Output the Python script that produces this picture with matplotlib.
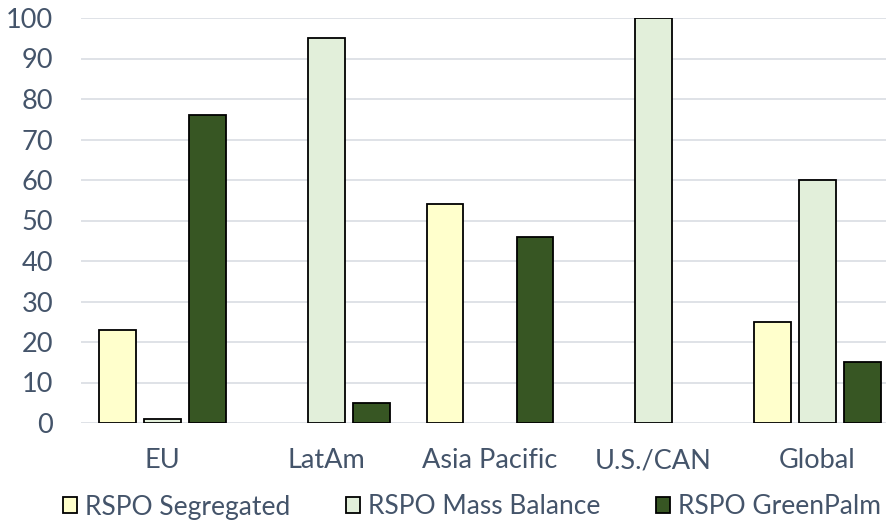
import numpy as np
import matplotlib.pyplot as plt
from matplotlib.patches import Patch

categories = ["EU", "LatAm", "Asia Pacific", "U.S./CAN", "Global"]
series = ["RSPO Segregated", "RSPO Mass Balance", "RSPO GreenPalm"]
segregated = [23, 0, 54, 0, 25]
mass_balance = [1, 95, 0, 100, 60]
greenpalm = [76, 5, 46, 0, 15]
colors = ["#FFFFCC", "#E2EFDA", "#375623"]
text_color = "#44546A"

plt.rcParams["font.family"] = ["Lato", "DejaVu Sans"]

fig = plt.figure(figsize=(8.87, 5.26), dpi=100)
# axes extends a bit past the right edge, as in the original crop
ax = fig.add_axes([81 / 887, 103 / 526, 818 / 887, 405 / 526])

x = np.arange(len(categories))
width = 0.226
step = 0.275
for i, (vals, col) in enumerate(zip([segregated, mass_balance, greenpalm], colors)):
    pos = x + (i - 1) * step
    heights = np.array(vals, dtype=float)
    mask = heights > 0
    ax.bar(pos[mask], heights[mask], width, color=col, edgecolor="black",
           linewidth=1.3, zorder=3)

ax.set_xlim(-0.5, len(categories) - 0.5)
ax.set_ylim(0, 100)
ax.set_yticks(range(0, 101, 10))
ax.set_xticks(x)
ax.set_xticklabels(categories)
ax.yaxis.grid(True, color="#D9DDE3", linewidth=1.2, zorder=0)
for s in ax.spines.values():
    s.set_visible(False)
ax.tick_params(axis="both", length=0, colors=text_color, labelsize=19.5)
ax.tick_params(axis="y", pad=20)
ax.tick_params(axis="x", pad=18)

handles = [Patch(facecolor=c, edgecolor="black", linewidth=1.3) for c in colors]
fig.legend(handles, series, loc="center", bbox_to_anchor=(472 / 887, 1 - 507 / 526),
           ncol=3, frameon=False, fontsize=19, labelcolor=text_color,
           handlelength=0.55, handleheight=0.55, handletextpad=0.3, columnspacing=2.1)

plt.savefig("out.png", dpi=100)
